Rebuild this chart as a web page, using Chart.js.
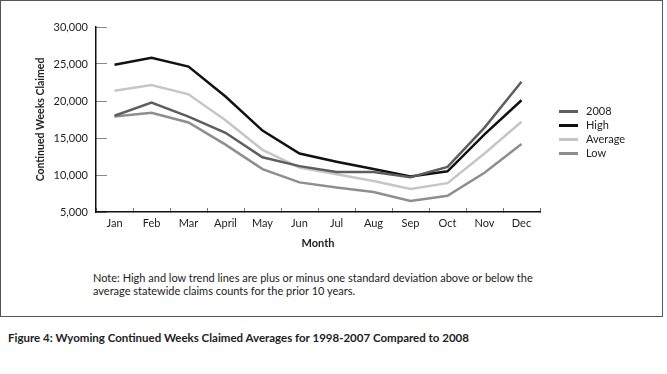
<!DOCTYPE html>
<html>
<head>
<meta charset="utf-8">
<script src="https://cdn.jsdelivr.net/npm/chart.js@4"></script>
<style>
  body { margin: 0; background: #fff; font-family: 'Lato', sans-serif; color: #222; }
  #wrap { position: relative; width: 667px; height: 374px; overflow: hidden; }
  #frame { position: absolute; left: 0; top: 0; width: 661px; height: 315px; border: 1.5px solid #555; }
  #chart { position: absolute; left: 0; top: 0; }
  .leg { position: absolute; left: 559px; font-size: 11px; line-height: 14px; }
  .leg span { display: inline-block; width: 19px; height: 3px; vertical-align: middle; margin-right: 8px; margin-top: -2px; }
  #note { position: absolute; left: 93px; top: 271px; font-size: 11px; line-height: 13px; white-space: nowrap; }
  #caption { position: absolute; left: 8px; top: 331px; font-size: 11.5px; font-weight: bold; white-space: nowrap; }
</style>
</head>
<body>
<div id="wrap">
  <div id="frame"></div>
  <canvas id="chart" width="667" height="254"></canvas>
  <div id="legend"></div>
  <div id="note">Note: High and low trend lines are plus or minus one standard deviation above or below the<br>average statewide claims counts for the prior 10 years.</div>
  <div id="caption">Figure 4: Wyoming Continued Weeks Claimed Averages for 1998-2007 Compared to 2008</div>
</div>
<script>
// values
var months = ["Jan", "Feb", "Mar", "April", "May", "Jun", "Jul", "Aug", "Sep", "Oct", "Nov", "Dec"];
var y2008 = [18000, 19800, 17900, 15700, 12400, 11200, 10400, 10400, 9700, 11100, 16400, 22600];
var high = [24900, 25850, 24650, 20600, 16000, 12900, 11800, 10800, 9800, 10500, 15500, 20100];
var average = [21400, 22150, 20900, 17400, 13400, 11000, 10100, 9200, 8100, 8900, 12900, 17200];
var low = [17900, 18400, 17100, 14100, 10800, 9000, 8300, 7700, 6500, 7200, 10300, 14200];
var seriesNames = ["2008", "High", "Average", "Low"];
var seriesColors = ["#5e5e5e", "#111111", "#c6c6c6", "#8e8e8e"];

var seriesData = [y2008, high, average, low];
var datasets = seriesData.map(function (d, i) {
    return {
        label: seriesNames[i],
        data: d,
        borderColor: seriesColors[i],
        backgroundColor: seriesColors[i],
        borderWidth: 2.5,
        pointRadius: 0,
        tension: 0,
        fill: false
    };
});

var font = { family: "Lato", size: 11 };
var ctx = document.getElementById("chart");
var chart = new Chart(ctx, {
    type: "line",
    data: { labels: months, datasets: datasets },
    options: {
        responsive: false,
        animation: false,
        devicePixelRatio: 1,
        layout: { padding: { top: 27, right: 127, left: 0, bottom: 0 } },
        plugins: { legend: { display: false }, tooltip: { enabled: false } },
        scales: {
            x: {
                offset: true,
                grid: { offset: true, drawOnChartArea: false, tickLength: -4, color: "#777", lineWidth: 1 },
                border: { color: "#111", width: 1.5 },
                ticks: { color: "#222", font: font, padding: 9, maxRotation: 0, autoSkip: false },
                title: { display: true, text: "Month", color: "#222", font: { family: "Lato", size: 11, weight: "bold" }, padding: { top: 4, bottom: 4 } },
                afterFit: function (s) { s.height = 254 - 212; }
            },
            y: {
                min: 5000,
                max: 30000,
                grid: { drawOnChartArea: false, tickLength: -11, color: "#888", lineWidth: 1 },
                border: { color: "#111", width: 1.5 },
                ticks: { stepSize: 5000, color: "#222", font: font, padding: 19 },
                title: { display: true, text: "Continued Weeks Claimed", color: "#222", font: { family: "Lato", size: 10.5, weight: "bold" }, padding: { top: 34, bottom: 0 } },
                afterFit: function (s) { s.width = 96; }
            }
        }
    }
});

// legend drawn as html rows
var legend = document.getElementById("legend");
seriesNames.forEach(function (name, i) {
    var row = document.createElement("div");
    row.className = "leg";
    row.style.top = (104 + i * 14) + "px";
    row.innerHTML = '<span style="background:' + seriesColors[i] + '"></span>' + name;
    legend.appendChild(row);
});
</script>
</body>
</html>
